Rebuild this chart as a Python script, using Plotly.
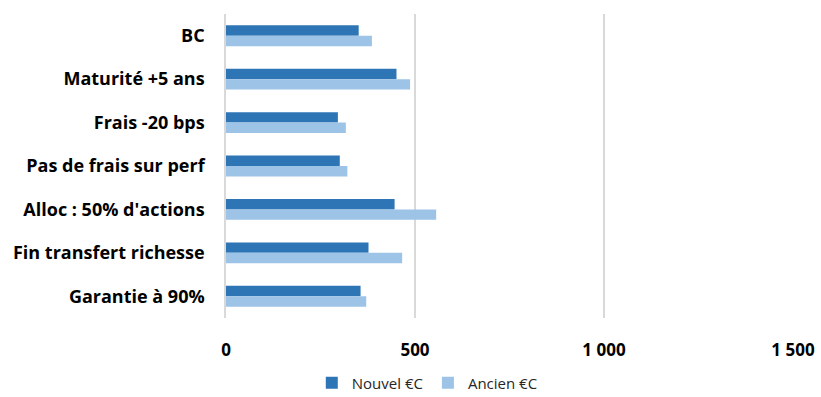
import plotly.graph_objects as go

categories = [
    "BC",
    "Maturité +5 ans",
    "Frais -20 bps",
    "Pas de frais sur perf",
    "Alloc : 50% d'actions",
    "Fin transfert richesse",
    "Garantie à 90%",
]
nouvel_ec = [351, 451, 296, 301, 446, 377, 356]
ancien_ec = [386, 487, 317, 321, 556, 466, 371]
x_ticks = [0, 500, 1000, 1500]
x_tick_labels = ["0", "500", "1 000", "1 500"]

font_family = "'Open Sans', Lato, sans-serif"

fig = go.Figure()
fig.add_trace(go.Bar(
    y=categories, x=nouvel_ec, name="Nouvel €C", orientation="h",
    marker=dict(color="#2E75B6", line=dict(width=0)),
))
fig.add_trace(go.Bar(
    y=categories, x=ancien_ec, name="Ancien €C", orientation="h",
    marker=dict(color="#9DC3E6", line=dict(width=0)),
))

fig.update_layout(
    width=821, height=397,
    margin=dict(l=226, r=28, t=14, b=79, autoexpand=False),
    paper_bgcolor="white", plot_bgcolor="white",
    barmode="group", bargap=0.52, bargroupgap=0,
    font=dict(family=font_family, color="black"),
    legend=dict(
        orientation="h", x=0.355, xanchor="center",
        yref="container", y=0.035, yanchor="middle",
        font=dict(size=15, family=font_family, color="#262626"),
        itemwidth=30, traceorder="normal",
    ),
    xaxis=dict(
        range=[0, 1500], tickvals=x_ticks, ticktext=x_tick_labels,
        showgrid=True, gridcolor="#D9D9D9", gridwidth=1.5,
        zeroline=False, showline=False,
        tickfont=dict(size=17, family=font_family, color="black", weight="bold"),
        ticklabelstandoff=20,
    ),
    yaxis=dict(
        autorange="reversed", showgrid=False, zeroline=False,
        showline=True, linecolor="#D9D9D9", linewidth=1.5,
        ticks="", ticklabelstandoff=16,
        tickfont=dict(size=18, family=font_family, color="black", weight="bold"),
    ),
)

fig.write_html("out.html")
